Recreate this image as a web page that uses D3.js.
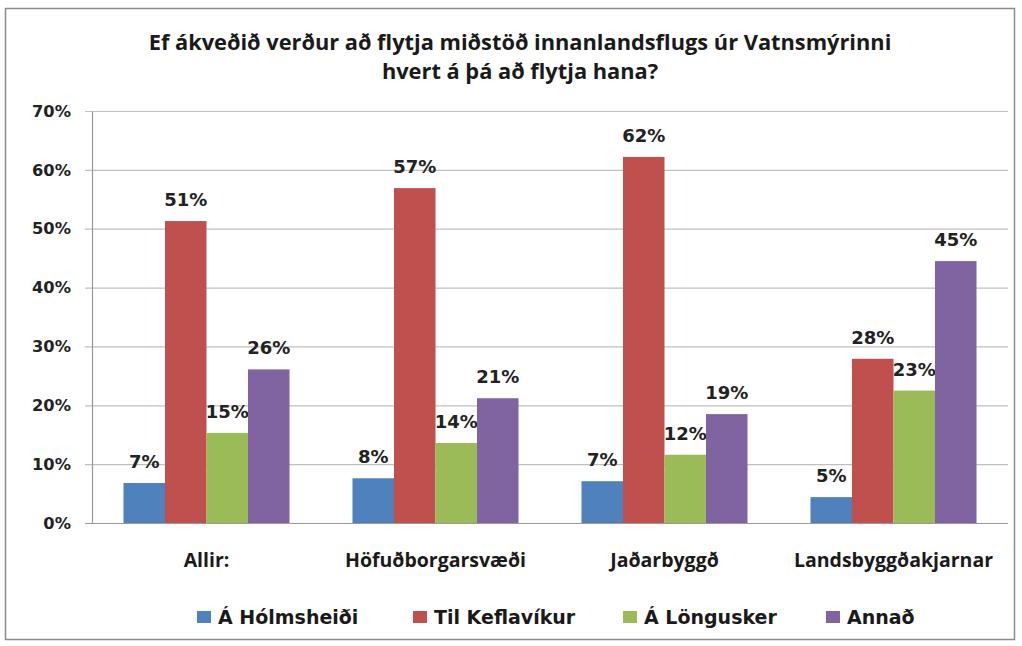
<!DOCTYPE html>
<html><head><meta charset="utf-8">
<script src="https://cdn.jsdelivr.net/npm/d3@7"></script>
<style>body{margin:0;background:#fff}</style>
</head><body>
<svg id="c" width="1022" height="646"></svg>
<script>
const titleLines = ["Ef ákveðið verður að flytja miðstöð innanlandsflugs úr Vatnsmýrinni", "hvert á þá að flytja hana?"];
const categories = ["Allir:", "Höfuðborgarsvæði", "Jaðarbyggð", "Landsbyggðakjarnar"];
const seriesNames = ["Á Hólmsheiði", "Til Keflavíkur", "Á Löngusker", "Annað"];
const colors = ["#4F81BD", "#C0504D", "#9BBB59", "#8064A2"];
const holmsheidi = [6.8, 7.6, 7.1, 4.4];
const keflavik = [51.3, 56.9, 62.2, 27.9];
const longusker = [15.3, 13.6, 11.6, 22.5];
const annad = [26.1, 21.2, 18.5, 44.5];
const holmsheidiLbl = ["7%", "8%", "7%", "5%"];
const keflavikLbl = ["51%", "57%", "62%", "28%"];
const longuskerLbl = ["15%", "14%", "12%", "23%"];
const annadLbl = ["26%", "21%", "19%", "45%"];
const yTicks = [0, 10, 20, 30, 40, 50, 60, 70];

const series = [holmsheidi, keflavik, longusker, annad];
const labels = [holmsheidiLbl, keflavikLbl, longuskerLbl, annadLbl];

const svg = d3.select("#c");
svg.append("rect").attr("x", 5.5).attr("y", 8.5).attr("width", 1009).attr("height", 631)
  .attr("fill", "#fff").attr("stroke", "#8c8c8c").attr("stroke-width", 1.5);

const L = 92, R = 1008, T = 111, B = 523;
const x = d3.scaleBand().domain(categories).range([L, R]).paddingInner(0.275).paddingOuter(0.1375);
const xs = d3.scaleBand().domain(d3.range(4)).range([0, x.bandwidth()]);
const y = d3.scaleLinear().domain([0, 70]).range([B, T]);

svg.append("g").selectAll("text").data(titleLines).join("text")
  .attr("x", 520).attr("y", (d, i) => 50 + i * 29).attr("text-anchor", "middle")
  .attr("font-family", "'Open Sans', Lato, sans-serif").attr("font-weight", "bold")
  .attr("font-size", 21.8).attr("fill", "#1a1a1a").text(d => d);

// grid
svg.append("g").selectAll("line").data(yTicks).join("line")
  .attr("x1", L - 7).attr("x2", R).attr("y1", d => y(d) + 0.5).attr("y2", d => y(d) + 0.5)
  .attr("stroke", d => d === 0 ? "#999" : "#c0c0c0").attr("stroke-width", 1.2);
const ya = svg.append("g").attr("transform", `translate(${L},0)`)
  .call(d3.axisLeft(y).tickValues(yTicks).tickSize(0).tickPadding(21).tickFormat(d => d + "%"));
ya.select(".domain").attr("stroke", "#999").attr("stroke-width", 1.2);
ya.selectAll("text").attr("font-family", "'DejaVu Sans', Verdana, sans-serif").attr("font-weight", "bold")
  .attr("font-size", 16.3).attr("fill", "#222");

// bars
const g = svg.append("g");
series.forEach((vals, si) => {
  g.append("g").selectAll("rect").data(vals).join("rect")
    .attr("x", (d, i) => x(categories[i]) + xs(si))
    .attr("y", d => y(d)).attr("width", xs.bandwidth()).attr("height", d => y(0) - y(d))
    .attr("fill", colors[si]);
  g.append("g").selectAll("text").data(vals).join("text")
    .attr("x", (d, i) => x(categories[i]) + xs(si) + xs.bandwidth() / 2)
    .attr("y", d => y(d) - 15).attr("text-anchor", "middle")
    .attr("font-family", "'DejaVu Sans', Verdana, sans-serif").attr("font-weight", "bold")
    .attr("font-size", 18).attr("fill", "#222").text((d, i) => labels[si][i]);
});

// x labels
svg.append("g").selectAll("text").data(categories).join("text")
  .attr("x", d => x(d) + x.bandwidth() / 2).attr("y", 567).attr("text-anchor", "middle")
  .attr("font-family", "'Open Sans', Lato, sans-serif").attr("font-weight", "bold")
  .attr("font-size", 19.5).attr("fill", "#1a1a1a").text(d => d);

// legend
const legX = [197, 413, 623, 826];
const lg = svg.append("g").selectAll("g").data(seriesNames).join("g")
  .attr("transform", (d, i) => `translate(${legX[i]},617)`);
lg.append("rect").attr("x", 0).attr("y", -6).attr("width", 14).attr("height", 12).attr("fill", (d, i) => colors[i]);
lg.append("text").attr("x", 21).attr("y", 7)
  .attr("font-family", "'DejaVu Sans', Verdana, sans-serif").attr("font-weight", "bold")
  .attr("font-size", 19).attr("fill", "#1a1a1a").text(d => d);
</script>
</body></html>
